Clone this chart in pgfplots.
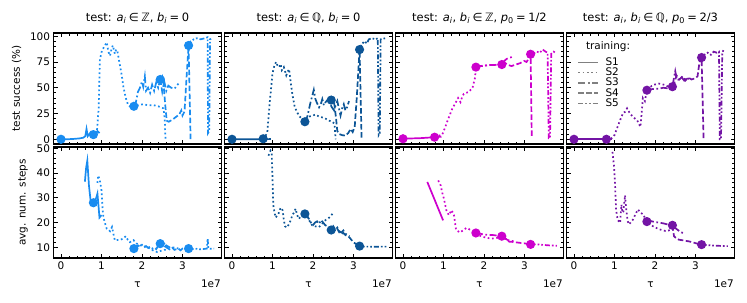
\documentclass[border=0pt]{standalone}
\usepackage{pgfplots}
\pgfplotsset{compat=1.18}
\usepackage{fontspec}
\setmainfont{DejaVu Sans}
\definecolor{cA}{RGB}{25,140,240}
\definecolor{cB}{RGB}{12,85,150}
\definecolor{cC}{RGB}{205,0,205}
\definecolor{cD}{RGB}{115,20,165}
\definecolor{lgray}{RGB}{128,128,128}
\newcommand{\fs}{\fontsize{10.5}{12}\selectfont}
\newcommand{\ft}{\fontsize{11.5}{13}\selectfont}
\newcommand{\rel}[1]{\hspace{0.22em}#1\hspace{0.22em}}
\tikzset{
 S1/.style={solid},
 S2/.style={dash pattern=on 1.7bp off 2.6bp},
 S3/.style={dash pattern=on 7bp off 2.6bp on 1.7bp off 2.6bp},
 S4/.style={dash pattern=on 5.5bp off 2.5bp},
 S5/.style={dash pattern=on 5bp off 2bp on 1.7bp off 2bp on 1.7bp off 2bp},
}
\pgfplotsset{
 panel/.style={scale only axis, width=168bp, height=111bp, anchor=north west,
  xmin=-0.185, xmax=3.963, xtick={0,1,2,3}, minor x tick num=4,
  tick align=inside, xtick pos=both, ytick pos=both,
  major tick length=4bp, minor tick length=2.5bp,
  every tick/.style={black, line width=0.9bp},
  axis line style={line width=1.3bp},
  tick label style={font=\fs},
  /pgf/number format/assume math mode=true,
  every axis plot/.append style={line width=1.7bp}},
 toprow/.style={ymin=-4.6, ymax=103.1, ytick={0,25,50,75,100}, minor y tick num=4, xticklabels={}},
 botrow/.style={ymin=5.7, ymax=50.5, ytick={10,20,30,40,50}, minor y tick num=4},
 noy/.style={yticklabels={}},
 mk/.style={only marks, mark=*, mark size=3.7pt},
}
\begin{document}
\begin{tikzpicture}
\path[use as bounding box] (0bp,0bp) rectangle (747bp,-303bp);
% ---------------- column 1 top
\begin{axis}[panel, toprow, at={(53.5bp,-33bp)}]
\addplot[cA,S1] coordinates {(0,0) (0.15,0) (0.3,0.3) (0.45,0.8) (0.55,1.5) (0.6,3) (0.63,10) (0.66,3) (0.7,5) (0.74,7) (0.78,4) (0.8,4.5) (0.85,5) (0.9,8) (0.95,6)};
\addplot[cA,S2] coordinates {(0.8,4.5) (0.88,4) (0.93,30) (0.96,77) (1.01,86) (1.07,90) (1.13,94) (1.17,85) (1.21,81) (1.25,88) (1.28,91) (1.33,83) (1.36,87) (1.39,86) (1.44,75) (1.5,62) (1.54,51) (1.6,40) (1.66,33) (1.73,31) (1.79,32) (1.9,33) (2.03,34) (2.15,33) (2.29,33) (2.4,32) (2.53,30) (2.56,20) (2.58,0)};
\addplot[cA,S3] coordinates {(1.8,32) (1.85,36) (1.9,46) (1.95,50) (2.0,56) (2.03,51) (2.07,61) (2.1,47) (2.15,50) (2.2,45) (2.25,53) (2.3,47) (2.35,55) (2.4,50) (2.45,58) (2.5,46) (2.55,56) (2.6,47) (2.65,52) (2.72,50) (2.8,49) (2.9,54)};
\addplot[cA,S4] coordinates {(2.45,58) (2.5,61) (2.53,55) (2.57,35) (2.61,18) (2.66,17) (2.75,19) (2.85,22) (2.92,24) (2.97,28) (3.0,23) (3.05,27) (3.1,60) (3.15,91) (3.2,0)};
\addplot[cA,S5] coordinates {(3.15,91) (3.2,95) (3.28,97) (3.35,98) (3.45,97) (3.55,98) (3.62,99) (3.63,6) (3.66,8) (3.68,97) (3.75,98)};
\addplot[cA,mk] coordinates {(0,0) (0.8,4.5) (1.8,32) (2.45,58) (3.15,91)};
\end{axis}
% ---------------- column 1 bottom
\begin{axis}[panel, botrow, at={(53.5bp,-147bp)}]
\addplot[cA,S1] coordinates {(0.59,36.5) (0.62,42) (0.65,45) (0.69,35) (0.73,29) (0.77,28) (0.8,27.8) (0.84,29) (0.87,30) (0.9,31.7) (0.93,26) (0.95,22) (1.0,23)};
\addplot[cA,S2] coordinates {(0.9,36) (0.92,39) (0.96,37) (1.0,33) (1.03,25) (1.05,22) (1.1,19) (1.13,17.5) (1.18,17) (1.21,16.5) (1.26,18.2) (1.3,15) (1.33,12.8) (1.4,13) (1.46,13) (1.53,13.5) (1.6,14.5) (1.65,13) (1.7,12.1) (1.75,12.5) (1.79,12.9) (1.87,11.5) (1.96,10.8) (2.05,10.5) (2.12,10.1) (2.2,9.5) (2.3,8.5) (2.38,8.1) (2.45,8.5) (2.55,9) (2.62,8.9)};
\addplot[cA,S3] coordinates {(1.8,9.5) (1.85,10) (1.9,10.8) (1.95,10.2) (2.0,11) (2.05,10) (2.1,10.5) (2.15,9.8) (2.2,10.3) (2.25,9.5) (2.3,10) (2.35,9.3) (2.4,10.5) (2.45,11.5) (2.5,10.5) (2.55,10) (2.6,10.8) (2.7,9.8) (2.8,10) (2.9,9.5)};
\addplot[cA,S4] coordinates {(2.45,11.5) (2.5,12) (2.55,11.5) (2.6,10) (2.65,9.5) (2.7,9) (2.75,9.8) (2.8,9) (2.9,9.5) (2.95,8.8) (3.0,9.5) (3.05,9.8) (3.1,9.5) (3.15,9.5)};
\addplot[cA,S5] coordinates {(3.15,9.5) (3.25,9.3) (3.35,9.4) (3.45,9.2) (3.55,9.4) (3.6,9.5) (3.62,13.5) (3.64,9.6) (3.7,9.4) (3.78,9.5)};
\addplot[cA,mk] coordinates {(0.8,28) (1.8,9.5) (2.45,11.5) (3.15,9.5)};
\end{axis}
% ---------------- column 2 top
\begin{axis}[panel, toprow, noy, at={(224.5bp,-33bp)}]
\addplot[cB,S1] coordinates {(0,0) (0.3,0) (0.6,0) (0.77,0) (0.96,0.2)};
\addplot[cB,S2] coordinates {(0.77,0) (0.87,6) (0.93,35) (1.0,64) (1.05,72) (1.09,75) (1.13,71) (1.17,70) (1.2,73) (1.23,67) (1.28,70) (1.34,62) (1.38,66) (1.41,68) (1.45,55) (1.49,44) (1.55,31) (1.6,27) (1.65,23) (1.72,20) (1.78,18) (1.85,21) (1.9,22) (2.0,23) (2.06,24) (2.15,22) (2.25,21) (2.31,20) (2.4,18) (2.48,17) (2.53,15) (2.56,0)};
\addplot[cB,S3] coordinates {(1.8,17) (1.86,22) (1.94,36) (2.02,48) (2.06,39) (2.1,35) (2.15,31) (2.2,35) (2.23,39) (2.27,33) (2.31,36) (2.36,38) (2.4,40) (2.45,32) (2.52,28) (2.56,33) (2.6,37) (2.64,30) (2.68,23) (2.72,30) (2.76,34) (2.8,28) (2.84,31) (2.89,37)};
\addplot[cB,S4] coordinates {(2.45,38) (2.5,40) (2.53,33) (2.57,20) (2.6,8) (2.65,5) (2.72,4) (2.8,3.5) (2.87,6) (2.93,10) (2.98,7) (3.03,12) (3.08,40) (3.15,87) (3.2,0)};
\addplot[cB,S5] coordinates {(3.15,87) (3.2,92) (3.27,95) (3.33,93) (3.38,97) (3.45,98) (3.55,97) (3.6,98) (3.62,4) (3.65,6) (3.67,97) (3.78,98)};
\addplot[cB,mk] coordinates {(0,0) (0.77,0.5) (1.8,17) (2.45,38) (3.15,87)};
\end{axis}
% ---------------- column 2 bottom
\begin{axis}[panel, botrow, noy, at={(224.5bp,-147bp)}]
\addplot[cB,S2] coordinates {(0.9,47) (0.95,49) (0.98,48) (1.0,38) (1.02,27) (1.05,24) (1.08,22) (1.12,23) (1.16,24) (1.2,26) (1.25,25) (1.28,21) (1.31,18.5) (1.36,18) (1.41,19.5) (1.45,21) (1.49,23) (1.53,24) (1.57,25.6) (1.61,23) (1.65,21.5) (1.7,22.5) (1.78,23.7) (1.82,22) (1.86,22.2) (1.92,20.5) (1.98,18.9) (2.05,18.5) (2.15,18.2) (2.22,19.5) (2.31,21) (2.4,22) (2.48,23.5)};
\addplot[cB,S3] coordinates {(1.8,23.5) (1.85,22.8) (1.9,21.5) (1.95,20) (2.0,19) (2.05,20) (2.1,20.5) (2.15,19.5) (2.2,21) (2.25,20) (2.3,19) (2.35,18.5) (2.4,18) (2.45,17) (2.5,18.5) (2.55,17.2) (2.6,18) (2.65,16.5) (2.7,16) (2.75,16.8) (2.8,15.5) (2.9,14.5)};
\addplot[cB,S4] coordinates {(2.45,17) (2.5,17.5) (2.55,16.5) (2.6,17.5) (2.65,16) (2.7,15.5) (2.75,15.8) (2.8,15) (2.85,14.5) (2.9,14) (2.95,13) (3.0,12) (3.05,11.5) (3.1,11) (3.15,10.5)};
\addplot[cB,S5] coordinates {(3.15,10.5) (3.25,10.3) (3.4,10.3) (3.55,10.2) (3.7,10.3) (3.85,10.3)};
\addplot[cB,mk] coordinates {(1.8,23.5) (2.45,17) (3.15,10.5)};
\end{axis}
% ---------------- column 3 top
\begin{axis}[panel, toprow, noy, at={(395.5bp,-33bp)}]
\addplot[cC,S1] coordinates {(0,0.5) (0.2,0.8) (0.4,1) (0.6,1.5) (0.78,2) (0.95,2.5)};
\addplot[cC,S2] coordinates {(0.78,2) (0.97,4.5) (1.05,12.5) (1.1,18) (1.17,25) (1.22,30) (1.28,34) (1.32,37) (1.36,40) (1.42,36) (1.46,41) (1.5,44) (1.56,45) (1.63,46) (1.67,48) (1.71,49) (1.78,60) (1.8,70) (1.9,71) (2.1,72) (2.3,72) (2.44,73)};
\addplot[cC,S3] coordinates {(1.8,70) (1.88,71) (1.96,71) (2.05,71.5) (2.15,72) (2.25,72) (2.35,72.5) (2.44,72.5) (2.5,76) (2.56,78) (2.63,79) (2.7,80)};
\addplot[cC,S4] coordinates {(2.44,72.5) (2.52,74) (2.6,72) (2.68,71) (2.75,72) (2.83,73) (2.9,74) (2.99,76) (3.05,75) (3.1,78) (3.15,82.5) (3.18,1)};
\addplot[cC,S5] coordinates {(3.15,82.5) (3.22,83) (3.3,85) (3.38,84) (3.45,87) (3.52,85) (3.57,84) (3.6,1) (3.63,1) (3.66,83) (3.72,85) (3.76,84)};
\addplot[cC,mk] coordinates {(0,0.5) (0.78,2) (1.8,70) (2.44,72.5) (3.15,82.5)};
\end{axis}
% ---------------- column 3 bottom
\begin{axis}[panel, botrow, noy, at={(395.5bp,-147bp)}]
\addplot[cC,S1] coordinates {(0.6,36.4) (0.99,20.9)};
\addplot[cC,S2] coordinates {(0.87,37) (0.93,35) (0.97,32) (1.01,29.7) (1.07,25) (1.13,23) (1.2,25) (1.26,22.9) (1.31,17.1) (1.36,16.5) (1.4,16) (1.5,17) (1.56,17.8) (1.62,17.5) (1.7,16.5) (1.79,15.6) (1.87,15) (1.95,14.3) (2.04,14) (2.12,13.7) (2.21,13.6) (2.3,13.7) (2.38,14) (2.46,14.3)};
\addplot[cC,S3] coordinates {(1.8,15.8) (1.9,15.5) (2.0,15.2) (2.1,15) (2.2,15) (2.3,14.8) (2.44,14.5) (2.5,13.8) (2.58,13) (2.65,12.6) (2.75,12.5)};
\addplot[cC,S4] coordinates {(2.44,14.5) (2.5,14) (2.56,13.2) (2.62,12.3) (2.7,12.2) (2.8,12) (2.9,11.8) (3.0,11.6) (3.08,11.4) (3.15,11.2)};
\addplot[cC,S5] coordinates {(3.15,11.2) (3.3,11.2) (3.45,11) (3.6,10.8) (3.75,10.7) (3.8,10.6)};
\addplot[cC,mk] coordinates {(1.8,15.8) (2.44,14.5) (3.15,11.2)};
\end{axis}
% ---------------- column 4 top
\begin{axis}[panel, toprow, noy, at={(566.5bp,-33bp)},
  legend cell align=left,
  legend image code/.code={\draw[#1, line width=1.5bp] (0bp,0bp) -- (20bp,0bp);},
  legend style={draw=none, fill=none, inner sep=0pt, outer sep=0pt,
    at={(axis description cs:0.066,0.777)}, anchor=north west, font=\fs, row sep=1.3bp,
    nodes={inner sep=0.5bp, text height=7bp, text depth=1bp},
    /tikz/every odd column/.append style={column sep=6bp}}]
\addlegendimage{lgray,S1}\addlegendentry{S1}
\addlegendimage{lgray,S2}\addlegendentry{S2}
\addlegendimage{lgray,S3}\addlegendentry{S3}
\addlegendimage{lgray,S4}\addlegendentry{S4}
\addlegendimage{lgray,S5}\addlegendentry{S5}
\addplot[cD,S1,forget plot] coordinates {(0,0) (0.4,0) (0.8,0) (0.95,0)};
\addplot[cD,S2,forget plot] coordinates {(0.8,0) (0.93,1) (1.0,4) (1.09,13.6) (1.17,21.6) (1.22,26) (1.26,26.5) (1.31,30) (1.38,25.2) (1.46,21.5) (1.56,18.4) (1.64,12) (1.68,30) (1.7,40) (1.75,37) (1.8,47.6) (1.94,52.6) (2.1,54) (2.26,52.6) (2.39,49.3)};
\addplot[cD,S3,forget plot] coordinates {(1.8,47.6) (1.9,48.5) (2.0,49) (2.1,49) (2.2,50) (2.3,49.5) (2.43,51) (2.47,60) (2.5,66) (2.54,57.6) (2.6,58) (2.66,60) (2.72,57) (2.78,60) (2.85,58)};
\addplot[cD,S4,forget plot] coordinates {(2.43,51) (2.48,55) (2.53,62) (2.6,58) (2.68,61) (2.75,57) (2.82,60) (2.9,58) (2.98,59) (3.05,61) (3.1,75) (3.15,79.3) (3.2,0)};
\addplot[cD,S5,forget plot] coordinates {(3.15,79.3) (3.22,82) (3.3,84) (3.38,82) (3.45,85) (3.52,84) (3.58,85) (3.6,0) (3.63,0) (3.66,83) (3.7,88)};
\addplot[cD,mk,forget plot] coordinates {(0,0) (0.8,0) (1.8,47.6) (2.43,51) (3.15,79.3)};
\end{axis}
% ---------------- column 4 bottom
\begin{axis}[panel, botrow, noy, at={(566.5bp,-147bp)}]
\addplot[cD,S2] coordinates {(0.95,48.5) (0.99,42.4) (1.02,33) (1.04,25) (1.08,21) (1.14,19.9) (1.17,27.2) (1.2,24) (1.22,24.5) (1.26,31) (1.29,25.3) (1.32,21) (1.35,19.3) (1.4,20) (1.46,21.3) (1.52,23.5) (1.58,25.3) (1.64,24) (1.71,23.3) (1.76,21.5) (1.8,20.4) (1.94,18.6) (2.1,17.3) (2.26,16.6) (2.39,17)};
\addplot[cD,S3] coordinates {(1.8,20.4) (1.9,20.6) (2.0,20.2) (2.1,20) (2.2,19.7) (2.3,19.3) (2.43,18.9) (2.5,17.8) (2.58,16.8) (2.65,16) (2.72,15.8)};
\addplot[cD,S4] coordinates {(2.43,18.9) (2.45,16.5) (2.47,14.5) (2.53,13.6) (2.59,13.1) (2.7,12.8) (2.84,12.4) (3.0,11.7) (3.15,11.1)};
\addplot[cD,S5] coordinates {(3.15,11.1) (3.3,10.9) (3.45,10.7) (3.6,10.6) (3.75,10.5) (3.8,10.5)};
\addplot[cD,mk] coordinates {(1.8,20.4) (2.43,18.9) (3.15,11.1)};
\end{axis}
% ---------------- texts
\node[anchor=base west, font=\fs] at (582.5bp,-49.5bp) {training:};
\foreach \cx/\tt in {137.5/{test: \textit{a}\textsubscript{\textit{i}}\rel{∈}ℤ, \textit{b}\textsubscript{\textit{i}}\rel{=}0},
                     308.5/{test: \textit{a}\textsubscript{\textit{i}}\rel{∈}ℚ, \textit{b}\textsubscript{\textit{i}}\rel{=}0},
                     479.5/{test: \textit{a}\textsubscript{\textit{i}}, \textit{b}\textsubscript{\textit{i}}\rel{∈}ℤ, \textit{p}\textsubscript{0}\rel{=}1/2},
                     650.5/{test: \textit{a}\textsubscript{\textit{i}}, \textit{b}\textsubscript{\textit{i}}\rel{∈}ℚ, \textit{p}\textsubscript{0}\rel{=}2/3}}{
  \node[anchor=base, font=\ft, inner sep=0pt] at (\cx bp,-21.5bp) {\tt};
  \node[anchor=base, font=\fs, inner sep=0pt] at (\cx bp,-287bp) {τ};
}
\foreach \rx in {221,392,563,734}{
  \node[anchor=base east, font=\fs, inner sep=0pt] at (\rx bp,-287bp) {1e7};
}
\node[rotate=90, anchor=base, font=\fs, inner sep=0pt] at (19.8bp,-88.5bp) {test success (\%)};
\node[rotate=90, anchor=base, font=\fs, inner sep=0pt] at (25.5bp,-202.5bp) {avg. num. steps};
\end{tikzpicture}
\end{document}
